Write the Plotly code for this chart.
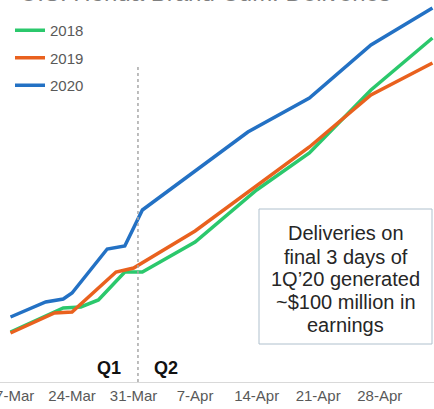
import plotly.graph_objects as go

# Cumulative deliveries by calendar day (index units)
dates_2018 = ["2020-03-17", "2020-03-23", "2020-03-25", "2020-03-27", "2020-03-30",
              "2020-04-01", "2020-04-07", "2020-04-14", "2020-04-20", "2020-04-27", "2020-05-04"]
values_2018 = [50, 74, 75, 82, 110, 110, 140, 192, 229, 292, 344]

dates_2019 = ["2020-03-17", "2020-03-22", "2020-03-24", "2020-03-29", "2020-03-31",
              "2020-04-07", "2020-04-20", "2020-04-27", "2020-05-04"]
values_2019 = [49, 69, 70, 110, 114, 151, 235, 287, 319]

dates_2020 = ["2020-03-17", "2020-03-21", "2020-03-23", "2020-03-24", "2020-03-28",
              "2020-03-30", "2020-04-01", "2020-04-13", "2020-04-20", "2020-04-27", "2020-05-04"]
values_2020 = [65, 80, 83, 89, 133, 136, 172, 250, 284, 337, 374]

tick_dates = ["2020-03-17", "2020-03-24", "2020-03-31", "2020-04-07",
              "2020-04-14", "2020-04-21", "2020-04-28"]
tick_labels = ["17-Mar", "24-Mar", "31-Mar", "7-Apr", "14-Apr", "21-Apr", "28-Apr"]

series = [
    ("2018", dates_2018, values_2018, "#2BC86C"),
    ("2019", dates_2019, values_2019, "#E9611E"),
    ("2020", dates_2020, values_2020, "#2371C4"),
]

quarter_end = "2020-03-31 12:00"
note_lines = ["Deliveries on", "final 3 days of", "1Q\u201920 generated",
              "~$100 million in", "earnings"]

FONT = "Arial, Liberation Sans, sans-serif"

fig = go.Figure()
for i, (name, x, y, color) in enumerate(series):
    fig.add_trace(go.Scatter(
        x=x, y=y, name=name, mode="lines",
        line=dict(color=color, width=3.5),
        legendgroup=f"g{i}",
    ))

# Quarter divider
fig.add_shape(type="line", xref="x", yref="y", x0=quarter_end, x1=quarter_end,
              y0=0, y1=315, line=dict(color="#A8A8A8", width=1.5, dash="dot"))

fig.add_annotation(text="<b>Q1</b>", xref="paper", yref="paper", x=123 / 434, y=14 / 382,
                   xanchor="right", yanchor="middle", showarrow=False,
                   font=dict(family=FONT, size=18, color="#111111"))
fig.add_annotation(text="<b>Q2</b>", xref="paper", yref="paper", x=152 / 434, y=14 / 382,
                   xanchor="left", yanchor="middle", showarrow=False,
                   font=dict(family=FONT, size=18, color="#111111"))

# Callout box
fig.add_shape(type="rect", xref="paper", yref="paper",
              x0=259 / 434, x1=432 / 434, y0=(382 - 344) / 382, y1=(382 - 209) / 382,
              line=dict(color="#AFC0CD", width=1), fillcolor="white", layer="above")
line_centers = [233, 257, 279, 302, 325]
for txt, yc in zip(note_lines, line_centers):
    fig.add_annotation(text=txt, xref="paper", yref="paper", x=345.5 / 434,
                       y=(382 - yc) / 382, xanchor="center", yanchor="middle",
                       showarrow=False, font=dict(family=FONT, size=20, color="#262626"))

# Chart title (runs off the top edge)
fig.add_annotation(text="U.S. Honda Brand Cum. Deliveries", xref="paper", yref="paper",
                   x=205 / 434, y=1, xanchor="center", yanchor="bottom", yshift=-8,
                   showarrow=False, font=dict(family=FONT, size=24, color="#7F7F7F"))

fig.update_layout(
    width=434, height=409,
    margin=dict(l=0, r=0, t=0, b=27, autoexpand=False),
    paper_bgcolor="white", plot_bgcolor="white",
    showlegend=True,
    legend=dict(x=10 / 434, y=1 - 14 / 382, xanchor="left", yanchor="top",
                bgcolor="rgba(0,0,0,0)", tracegroupgap=5,
                font=dict(family=FONT, size=15, color="#595959")),
    xaxis=dict(type="date", range=["2020-03-15 19:19", "2020-05-04 04:12"],
               tickvals=tick_dates, ticktext=tick_labels, ticklabeloverflow="allow",
               automargin=False,
               showgrid=False, zeroline=False, showline=True,
               linecolor="#D9D9D9", linewidth=1, ticks="",
               tickfont=dict(family=FONT, size=15, color="#595959")),
    yaxis=dict(range=[0, 382], visible=False, showgrid=False, zeroline=False),
)

fig.write_html("out.html")
